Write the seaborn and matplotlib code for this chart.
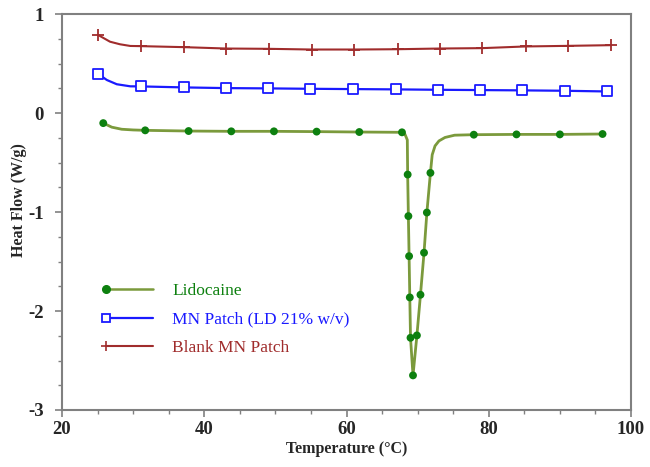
import numpy as np
import pandas as pd
import seaborn as sns
import matplotlib.pyplot as plt
from matplotlib.lines import Line2D
from matplotlib.legend_handler import HandlerLine2D
from matplotlib.ticker import MultipleLocator

# Datos (marcadores)
lido_t = [25.8, 31.7, 37.8, 43.8, 49.8, 55.8, 61.8, 67.8,
          68.6, 68.7, 68.8, 68.9, 69.0, 69.35,
          69.9, 70.4, 70.9, 71.3, 71.8,
          77.9, 83.9, 90.0, 96.0]
lido_hf = [-0.10, -0.173, -0.18, -0.183, -0.183, -0.186, -0.19, -0.193,
           -0.62, -1.04, -1.445, -1.862, -2.27, -2.65,
           -2.246, -1.835, -1.41, -1.004, -0.603,
           -0.217, -0.214, -0.214, -0.21]

mn_t = [25.1, 31.1, 37.1, 43.0, 49.0, 54.9, 60.9, 66.9, 72.8, 78.7, 84.7, 90.7, 96.6]
mn_hf = [0.397, 0.271, 0.261, 0.254, 0.251, 0.247, 0.244, 0.241, 0.237, 0.234, 0.231, 0.227, 0.22]

blank_t = [25.1, 31.15, 37.1, 43.1, 49.1, 55.1, 61.1, 67.2, 73.1, 79.1, 85.2, 91.1, 97.2]
blank_hf = [0.79, 0.678, 0.668, 0.654, 0.651, 0.644, 0.644, 0.647, 0.654, 0.658, 0.675, 0.681, 0.688]

# Puntos extra de la curva suavizada
lido_curve_t = [27.0, 28.4, 30.0, 68.2, 68.55, 72.05, 72.45, 73.0, 73.85, 75.2]
lido_curve_hf = [-0.141, -0.162, -0.169, -0.209, -0.27, -0.42, -0.33, -0.28, -0.245, -0.222]
mn_curve_t = [26.3, 27.7, 29.6]
mn_curve_hf = [0.336, 0.293, 0.272]
blank_curve_t = [26.75, 28.15, 29.6]
blank_curve_hf = [0.723, 0.697, 0.68]

labels = ['Lidocaine', 'MN Patch (LD 21% w/v)', 'Blank MN Patch']
c_lido_line, c_lido_mark = '#7b9a3c', '#0d800f'
c_mn = '#1a1aff'
c_blank = '#a02c2c'


def linea(t, hf, ct, chf):
    d = pd.DataFrame({'t': list(t) + list(ct), 'hf': list(hf) + list(chf)})
    return d.sort_values('t')


sns.set_style('ticks')
plt.rcParams['font.family'] = ['Liberation Serif', 'DejaVu Serif']
plt.rcParams['axes.unicode_minus'] = False

fig = plt.figure(figsize=(6.5, 4.67), dpi=100)
ax = fig.add_axes([62 / 650, 57 / 467, 569 / 650, 395.7 / 467])

d = linea(lido_t, lido_hf, lido_curve_t, lido_curve_hf)
sns.lineplot(data=d, x='t', y='hf', ax=ax, sort=False, estimator=None, color=c_lido_line, lw=2)
d = linea(mn_t, mn_hf, mn_curve_t, mn_curve_hf)
sns.lineplot(data=d, x='t', y='hf', ax=ax, sort=False, estimator=None, color=c_mn, lw=1.6)
d = linea(blank_t, blank_hf, blank_curve_t, blank_curve_hf)
sns.lineplot(data=d, x='t', y='hf', ax=ax, sort=False, estimator=None, color=c_blank, lw=1.5)

sns.scatterplot(x=lido_t, y=lido_hf, ax=ax, marker='o', s=32, color=c_lido_mark, edgecolor='none', zorder=3)
sns.scatterplot(x=mn_t, y=mn_hf, ax=ax, marker='s', s=42, facecolor='white', edgecolor=c_mn, linewidth=1.3, zorder=3)
sns.scatterplot(x=blank_t, y=blank_hf, ax=ax, marker='+', s=70, color=c_blank, linewidth=1.3, zorder=3)

ax.set_xlim(20, 100)
ax.set_ylim(-3, 1)
ax.xaxis.set_major_locator(MultipleLocator(20))
ax.xaxis.set_minor_locator(MultipleLocator(5))
ax.yaxis.set_major_locator(MultipleLocator(1))
ax.yaxis.set_minor_locator(MultipleLocator(0.25))
ax.tick_params(which='major', direction='out', length=5, width=1.2, color='#808080')
ax.tick_params(which='minor', direction='out', length=3, width=1.0, color='#808080')
ax.tick_params(axis='x', which='both', bottom=True, top=False, pad=3)
ax.tick_params(axis='y', which='both', left=True, right=False, pad=8)
for lab in ax.get_xticklabels() + ax.get_yticklabels():
    lab.set_fontsize(13.5)
    lab.set_fontweight('bold')
for s in ax.spines.values():
    s.set_visible(True)
    s.set_color('#808080')
    s.set_linewidth(1.5)

ax.set_xlabel('Temperature (°C)', fontsize=11.5, fontweight='bold')
ax.set_ylabel('Heat Flow (W/g)', fontsize=11.5, fontweight='bold')
ax.xaxis.set_label_coords(0.5, -0.078)
ax.yaxis.set_label_coords(-0.062, 0.53)


class MarcaIzq(HandlerLine2D):
    def create_artists(self, *args, **kw):
        arts = super().create_artists(*args, **kw)
        for a in arts:
            a.set_markevery([0])
        return arts


handles = [
    Line2D([], [], color=c_lido_line, lw=1.8, marker='o', ms=5.5, mfc=c_lido_mark, mec=c_lido_mark),
    Line2D([], [], color=c_mn, lw=1.6, marker='s', ms=6, mfc='white', mec=c_mn, mew=1.3),
    Line2D([], [], color=c_blank, lw=1.5, marker='+', ms=7, mec=c_blank, mew=1.2),
]
leg = ax.legend(handles, labels, loc='upper left', bbox_to_anchor=(106 / 650, (467 - 283) / 467),
                bbox_transform=fig.transFigure, frameon=False, fontsize=12.5,
                handlelength=2.7, handletextpad=1.1, labelspacing=0.72, borderpad=0, borderaxespad=0,
                handler_map={Line2D: MarcaIzq()})
for txt, c in zip(leg.get_texts(), [c_lido_mark, c_mn, c_blank]):
    txt.set_color(c)

fig.savefig('out.png', dpi=100)
